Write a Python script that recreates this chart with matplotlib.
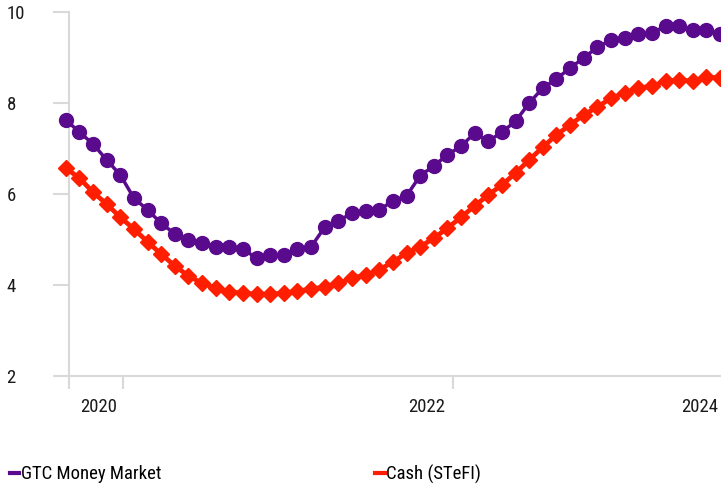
import matplotlib
matplotlib.use("Agg")
import matplotlib.pyplot as plt
import numpy as np
from matplotlib.lines import Line2D
from matplotlib import font_manager

names = {f.name for f in font_manager.fontManager.ttflist}
fams = [f for f in ['Roboto Condensed', 'Liberation Sans Narrow', 'Open Sans Condensed',
                    'Liberation Sans'] if f in names]
fams.append('DejaVu Sans')
plt.rcParams['font.family'] = fams
narrow = fams[0] in ('Roboto Condensed', 'Liberation Sans Narrow', 'Open Sans Condensed')
fs = 13.5 if narrow else 12.3

series_names = ["GTC Money Market", "Cash (STeFI)"]
gtc = [7.63, 7.36, 7.10, 6.75, 6.42, 5.91, 5.65, 5.36, 5.12, 4.99, 4.92, 4.84, 4.84,
       4.79, 4.59, 4.66, 4.66, 4.79, 4.84, 5.27, 5.41, 5.58, 5.63, 5.65, 5.85, 5.96,
       6.40, 6.62, 6.86, 7.05, 7.34, 7.16, 7.36, 7.60, 8.00, 8.33, 8.53, 8.77, 8.99,
       9.23, 9.38, 9.43, 9.52, 9.54, 9.69, 9.69, 9.60, 9.60, 9.52]
cash = [6.57, 6.35, 6.04, 5.78, 5.49, 5.23, 4.95, 4.68, 4.42, 4.20, 4.04, 3.93, 3.85,
        3.82, 3.80, 3.80, 3.82, 3.87, 3.91, 3.96, 4.04, 4.15, 4.22, 4.33, 4.51, 4.70,
        4.84, 5.03, 5.25, 5.49, 5.74, 5.98, 6.20, 6.46, 6.75, 7.03, 7.30, 7.52, 7.74,
        7.91, 8.11, 8.22, 8.33, 8.37, 8.48, 8.51, 8.48, 8.57, 8.55]
year_labels = ["2020", "2022", "2024"]
y_ticks = [2, 4, 6, 8, 10]

purple = "#5a0a8c"
red = "#ff1e00"
grey = "#d9d9d9"

fig = plt.figure(figsize=(7.21, 4.86), dpi=100)
ax = fig.add_axes([69 / 721, 110 / 486, 652 / 721, 364 / 486])

x = np.arange(len(gtc))
ax.plot(x, gtc, color=purple, lw=2.5, marker='o', ms=10, clip_on=False, zorder=3)
ax.plot(x, cash, color=red, lw=3.4, marker='D', ms=8, clip_on=False, zorder=3)

ax.set_xlim(0.24, 48.07)
ax.set_ylim(2, 10)

for s in ['top', 'right']:
    ax.spines[s].set_visible(False)
for s in ['left', 'bottom']:
    ax.spines[s].set_color(grey)
    ax.spines[s].set_linewidth(1.5)

ax.set_yticks(y_ticks)
ax.set_yticklabels([str(v) for v in y_ticks])
ax.tick_params(axis='y', length=11.5, width=1.5, color=grey, pad=33.5,
               labelsize=fs, labelcolor="#1a1a1a")
for lab in ax.get_yticklabels():
    lab.set_horizontalalignment('left')

ax.set_xticks([0.24, 4.2, 28.4])
ax.set_xticklabels(["", "", ""])
ax.set_xticks([2.4, 26.5, 46.5], minor=True)
ax.set_xticklabels(year_labels, minor=True)
ax.tick_params(axis='x', which='major', length=9.4, width=1.5, color=grey)
ax.tick_params(axis='x', which='minor', length=0, pad=16, labelsize=fs,
               labelcolor="#1a1a1a")

handles = [Line2D([], [], color=purple, lw=3), Line2D([], [], color=red, lw=3)]
leg = fig.legend(handles, series_names, loc='center left', bbox_to_anchor=(4 / 721, 12 / 486),
                 ncol=2, frameon=False, handlelength=0.5, handletextpad=0.1,
                 columnspacing=11.4, fontsize=fs, borderaxespad=0, borderpad=0.3)

fig.savefig("out.png", dpi=100)
